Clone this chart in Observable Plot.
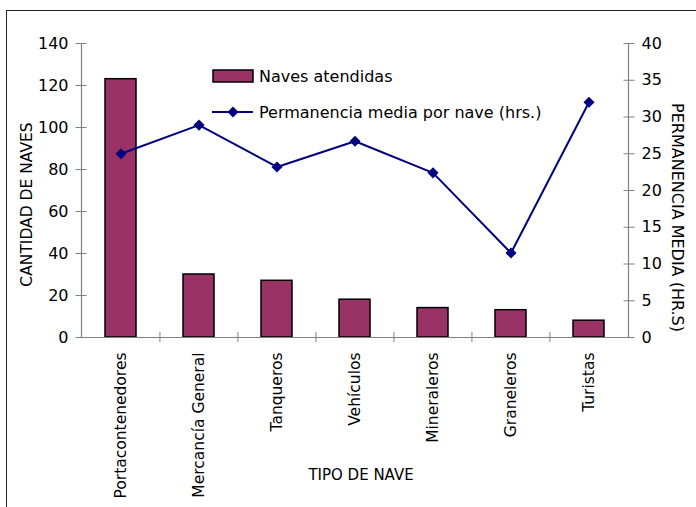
<!DOCTYPE html>
<html>
<head>
<meta charset="utf-8">
<script src="https://cdn.jsdelivr.net/npm/d3@7"></script>
<script src="https://cdn.jsdelivr.net/npm/@observablehq/plot@0.6"></script>
<style>
  html, body { margin: 0; padding: 0; background: #fff; }
  #wrap { position: relative; width: 696px; height: 507px; overflow: hidden; font-family: "DejaVu Sans", sans-serif; }
  #border { position: absolute; left: 6px; top: 10px; right: -2px; bottom: -2px; border-top: 1.5px solid #222; border-left: 1.5px solid #222; pointer-events: none; }
  #chart svg { display: block; }
  .legend { position: absolute; left: 212px; font-size: 16px; color: #000; display: flex; align-items: center; white-space: nowrap; }
  .legend svg { margin-right: 5px; }
</style>
</head>
<body>
<div id="wrap">
  <div id="chart"></div>
  <div id="border"></div>
  <div class="legend" style="top:65px">
    <svg width="42" height="22"><rect x="1" y="5" width="40" height="12" fill="#993366" stroke="#000" stroke-width="1.5"/></svg>
    <span>Naves atendidas</span>
  </div>
  <div class="legend" style="top:101px">
    <svg width="42" height="22"><line x1="0" y1="11" x2="41" y2="11" stroke="#000080" stroke-width="2"/><path d="M21,5.5L26.5,11L21,16.5L15.5,11Z" fill="#000080"/></svg>
    <span>Permanencia media por nave (hrs.)</span>
  </div>
</div>
<script>
const categories = ["Portacontenedores", "Mercancía General", "Tanqueros", "Vehículos", "Mineraleros", "Graneleros", "Turistas"];
const naves = [123, 30, 27, 18, 14, 13, 8];
const permanencia = [25.0, 28.9, 23.2, 26.7, 22.4, 11.5, 32.0];
const leftTicks = [0, 20, 40, 60, 80, 100, 120, 140];
const rightTicks = [0, 5, 10, 15, 20, 25, 30, 35, 40];

const W = 696, H = 507;
const mL = 81, mR = 68, mT = 43, mB = 170;
const ratio = 140 / 40;
const halfStep = (W - mL - mR) / categories.length / 2;

const data = categories.map((c, i) => ({cat: c, naves: naves[i], perm: permanencia[i]}));
const axisGrey = "#808080";

const plot = Plot.plot({
  width: W,
  height: H,
  marginLeft: mL,
  marginRight: mR,
  marginTop: mT,
  marginBottom: mB,
  style: {fontFamily: "DejaVu Sans", fontSize: "16px", color: "#000", background: "transparent"},
  x: {domain: categories, paddingInner: 0.6, paddingOuter: 0.3},
  y: {domain: [0, 140]},
  marks: [
    Plot.barY(data, {x: "cat", y: "naves", fill: "#993366", stroke: "#000", strokeWidth: 1.5}),
    Plot.ruleY([0], {stroke: axisGrey, strokeWidth: 1.2}),
    Plot.frame({anchor: "left", stroke: axisGrey, strokeWidth: 1.2}),
    Plot.frame({anchor: "right", stroke: axisGrey, strokeWidth: 1.2}),
    // left axis: crossing ticks + labels
    Plot.axisY(leftTicks, {anchor: "left", tickSize: 11, dx: 5.5, tickFormat: () => "", stroke: axisGrey, label: null}),
    Plot.axisY(leftTicks, {anchor: "left", tickSize: 0, tickPadding: 13, label: null, fontSize: 16}),
    // right axis
    Plot.axisY(rightTicks.map(t => t * ratio), {anchor: "right", tickSize: 11, dx: -5.5, tickFormat: () => "", stroke: axisGrey, label: null}),
    Plot.axisY(rightTicks.map(t => t * ratio), {anchor: "right", tickSize: 0, tickPadding: 13, tickFormat: d => d3.format("d")(d / ratio), label: null, fontSize: 16}),
    // bottom axis: boundary ticks + category labels
    Plot.axisX(categories.slice(1), {anchor: "bottom", tickSize: 10, dy: -5, dx: -halfStep, tickFormat: () => "", stroke: axisGrey, label: null}),
    Plot.axisX(categories, {anchor: "bottom", tickSize: 0, tickPadding: 15, tickRotate: -90, label: null, fontSize: 15.5}),
    // line series on secondary axis
    Plot.line(data, {x: "cat", y: d => d.perm * ratio, stroke: "#000080", strokeWidth: 2}),
    Plot.dot(data, {x: "cat", y: d => d.perm * ratio, symbol: "diamond2", r: 5, fill: "#000080", stroke: "none"}),
    // axis titles
    Plot.text(["CANTIDAD DE NAVES"], {frameAnchor: "left", textAnchor: "middle", dx: -54, dy: 14, rotate: -90, fontSize: 15.5}),
    Plot.text(["PERMANENCIA MEDIA (HR.S)"], {frameAnchor: "right", textAnchor: "middle", dx: 49, dy: 27, rotate: 90, fontSize: 16}),
    Plot.text(["TIPO DE NAVE"], {frameAnchor: "bottom", dx: 6, dy: 142, fontSize: 15})
  ]
});
document.getElementById("chart").appendChild(plot);
</script>
</body>
</html>
